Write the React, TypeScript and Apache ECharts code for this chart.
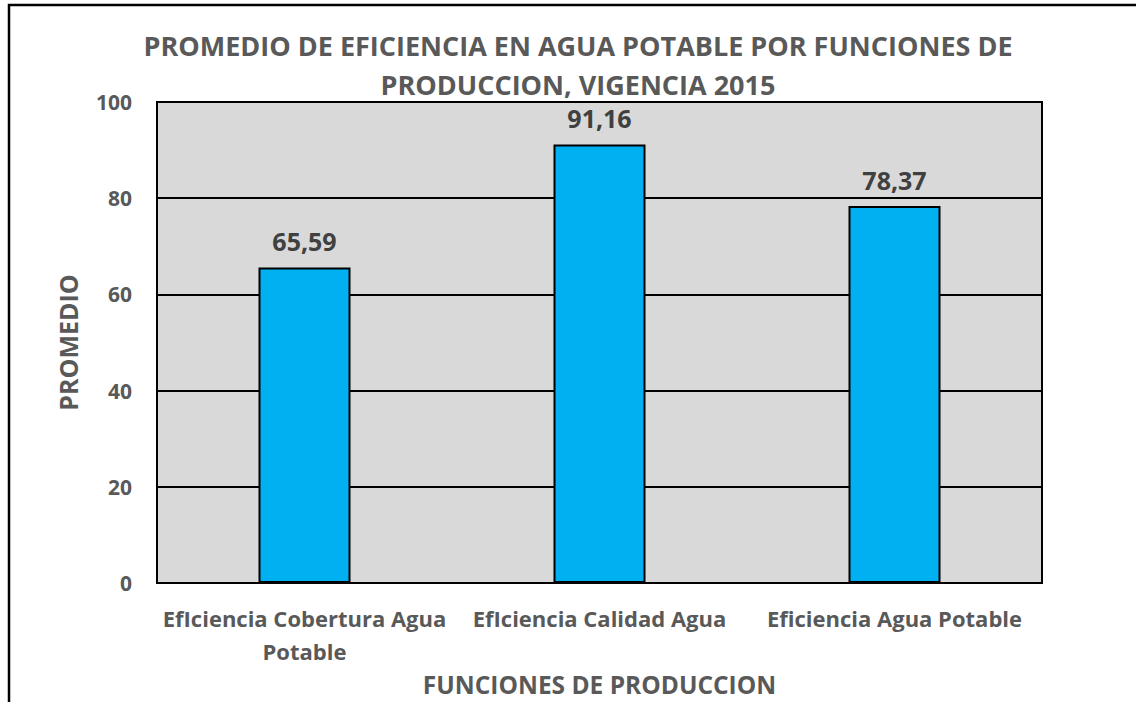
import React, { useEffect, useRef } from "react";
import * as echarts from "echarts";

const titleText = "PROMEDIO DE EFICIENCIA EN AGUA POTABLE POR FUNCIONES DE\nPRODUCCION, VIGENCIA 2015";
const categories = ["EfIciencia Cobertura Agua\nPotable", "EfIciencia Calidad Agua", "Eficiencia Agua Potable"];
const values = [65.59, 91.16, 78.37];
const yTicks = { min: 0, max: 100, interval: 20 };
const xAxisName = "FUNCIONES DE PRODUCCION";
const yAxisName = "PROMEDIO";

const FONT = "'Open Sans', 'Noto Sans', sans-serif";
const GRAY = "#595959";

export default function App() {
  const ref = useRef<HTMLDivElement>(null);
  useEffect(() => {
    if (!ref.current) return;
    const chart = echarts.init(ref.current, undefined, { renderer: "svg" });
    chart.setOption({
      animation: false,
      backgroundColor: "#ffffff",
      textStyle: { fontFamily: FONT },
      title: {
        text: titleText,
        left: 573,
        top: 21,
        textAlign: "center",
        textStyle: { fontFamily: FONT, fontSize: 27, fontWeight: "bold", color: GRAY, lineHeight: 39 },
      },
      graphic: [
        {
          type: "rect",
          shape: { x: 9, y: 5, width: 1300, height: 900 },
          style: { fill: "none", stroke: "#000", lineWidth: 2.5 },
          silent: true,
        },
      ],
      grid: {
        left: 157,
        top: 102,
        width: 885,
        height: 481,
        show: true,
        backgroundColor: "#D9D9D9",
        borderColor: "#000",
        borderWidth: 2,
        containLabel: false,
      },
      xAxis: {
        type: "category",
        data: categories,
        name: xAxisName,
        nameLocation: "middle",
        nameGap: 80,
        nameTextStyle: { fontFamily: FONT, fontSize: 24.5, fontWeight: "bold", color: GRAY },
        axisLine: { show: false },
        axisTick: { show: false },
        axisLabel: {
          interval: 0,
          margin: 18,
          fontFamily: FONT,
          fontSize: 22,
          fontWeight: "bold",
          color: GRAY,
          lineHeight: 33,
        },
      },
      yAxis: {
        type: "value",
        min: yTicks.min,
        max: yTicks.max,
        interval: yTicks.interval,
        name: yAxisName,
        nameLocation: "middle",
        nameGap: 77,
        nameRotate: 90,
        nameTextStyle: { fontFamily: FONT, fontSize: 25, fontWeight: "bold", color: GRAY },
        axisLine: { show: false },
        axisTick: { show: false },
        axisLabel: { margin: 25, fontFamily: FONT, fontSize: 21, fontWeight: "bold", color: GRAY },
        splitLine: { show: true, lineStyle: { color: "#000", width: 2 } },
      },
      series: [
        {
          type: "bar",
          data: values,
          barWidth: 92,
          itemStyle: { color: "#00B0F0", borderColor: "#000", borderWidth: 2 },
          label: {
            show: true,
            position: "top",
            distance: 14,
            fontFamily: FONT,
            fontSize: 25,
            fontWeight: "bold",
            color: "#404040",
            formatter: (p: any) => p.value.toFixed(2).replace(".", ","),
          },
        },
      ],
    });
    return () => chart.dispose();
  }, []);
  return (
    <div
      ref={ref}
      style={{ position: "absolute", left: 0, top: 0, width: 1136, height: 702 }}
    />
  );
}
